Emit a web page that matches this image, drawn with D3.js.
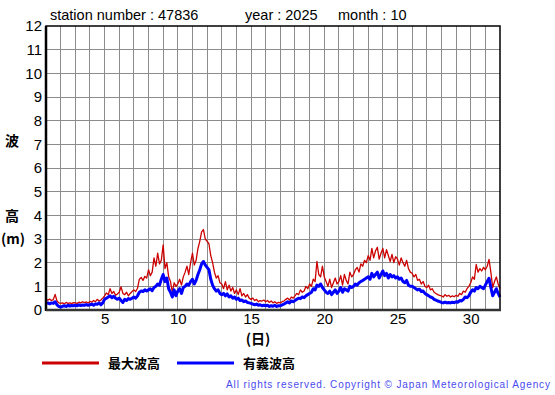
<!DOCTYPE html>
<html>
<head>
<meta charset="utf-8">
<script src="https://cdn.jsdelivr.net/npm/d3@7"></script>
<style>
  body { margin: 0; background: #fff; }
  svg { display: block; font-family: "Liberation Sans", Arial, sans-serif; }
  .jp { font-family: "Noto Sans CJK JP", sans-serif; font-weight: bold; }
</style>
</head>
<body>
<div id="chart"></div>
<script>
// 3-hourly readings, Oct 1 00h .. Nov 1 00h
const maxWave = [
    0.45,0.42,0.46,0.40,0.44,0.66,0.38,0.30,
    0.28,0.30,0.26,0.32,0.28,0.30,0.27,0.31,
    0.30,0.28,0.33,0.30,0.35,0.31,0.34,0.30,
    0.36,0.33,0.40,0.35,0.45,0.38,0.42,0.50,
    0.60,0.72,0.65,0.90,0.70,0.78,0.62,0.68,
    0.75,0.98,0.70,0.65,0.75,0.60,0.70,0.78,
    0.85,0.78,0.92,1.30,1.38,1.25,1.42,1.35,
    1.70,1.45,1.60,2.20,1.85,2.40,1.95,2.10,
    2.75,1.75,2.00,1.40,1.20,0.75,1.15,1.00,
    1.10,1.30,1.05,1.40,1.60,1.85,1.50,2.00,
    2.40,1.90,2.10,2.60,2.90,3.30,3.40,3.00,
    2.90,2.80,2.30,2.00,1.60,1.35,1.45,1.15,
    1.10,0.90,1.20,0.85,1.05,0.80,0.95,0.70,
    0.85,0.65,0.90,0.60,0.70,0.55,0.65,0.50,
    0.45,0.50,0.40,0.45,0.35,0.40,0.38,0.42,
    0.35,0.40,0.32,0.38,0.30,0.35,0.28,0.32,
    0.30,0.35,0.38,0.45,0.50,0.42,0.55,0.50,
    0.60,0.70,0.65,0.85,0.75,0.80,1.00,0.90,
    1.10,1.00,1.30,1.20,2.05,1.50,1.40,1.85,
    1.40,1.20,1.00,1.30,0.95,1.15,1.35,1.10,
    1.20,1.45,1.05,1.50,1.25,1.10,1.60,1.40,
    1.50,1.70,1.80,1.60,1.95,1.85,2.10,2.00,
    2.30,2.10,2.60,2.20,2.50,2.65,2.15,2.40,
    2.60,2.20,2.55,2.30,2.05,2.35,2.00,2.25,
    2.15,1.90,2.20,2.00,1.85,2.10,1.75,1.60,
    1.55,1.40,1.50,1.25,1.30,1.10,1.20,1.00,
    0.95,1.05,0.85,0.90,0.75,0.70,0.65,0.62,
    0.60,0.55,0.65,0.58,0.62,0.55,0.60,0.56,
    0.62,0.58,0.70,0.65,0.80,0.75,0.90,1.00,
    1.15,1.40,1.30,1.93,1.60,1.75,1.65,1.80,
    1.70,1.85,2.14,1.60,0.95,1.20,1.40,1.10,
    0.90
];

const sigWave = [
    0.28,0.30,0.26,0.30,0.28,0.35,0.22,0.15,
    0.12,0.16,0.18,0.15,0.20,0.17,0.19,0.18,
    0.20,0.18,0.22,0.19,0.21,0.20,0.23,0.20,
    0.22,0.25,0.20,0.26,0.24,0.30,0.22,0.30,
    0.45,0.50,0.55,0.60,0.52,0.58,0.50,0.45,
    0.50,0.40,0.32,0.45,0.40,0.48,0.45,0.50,
    0.55,0.50,0.60,0.75,0.80,0.78,0.85,0.80,
    0.85,0.90,0.82,0.95,1.00,1.10,1.05,1.30,
    1.50,1.20,1.35,0.90,0.75,0.55,0.85,0.60,
    0.80,0.90,0.70,0.95,1.00,1.10,1.05,1.20,
    1.30,1.10,1.25,1.50,1.70,1.95,2.05,1.90,
    1.80,1.70,1.30,1.05,0.90,0.80,0.85,0.70,
    0.65,0.70,0.60,0.68,0.55,0.60,0.50,0.55,
    0.45,0.50,0.40,0.42,0.35,0.38,0.32,0.30,
    0.28,0.25,0.22,0.25,0.20,0.22,0.18,0.20,
    0.18,0.20,0.15,0.18,0.16,0.20,0.15,0.18,
    0.18,0.22,0.25,0.30,0.35,0.30,0.38,0.35,
    0.40,0.45,0.50,0.48,0.55,0.52,0.60,0.65,
    0.70,0.75,0.90,0.85,1.05,1.00,1.10,0.95,
    0.85,0.75,0.70,0.80,0.65,0.75,0.85,0.70,
    0.80,0.95,0.75,0.90,0.85,0.80,1.00,0.95,
    1.00,1.10,1.05,1.15,1.20,1.25,1.30,1.35,
    1.40,1.30,1.55,1.40,1.50,1.60,1.35,1.50,
    1.65,1.45,1.55,1.35,1.50,1.40,1.45,1.35,
    1.40,1.30,1.35,1.20,1.15,1.25,1.05,1.00,
    1.00,0.95,0.90,0.85,0.88,0.78,0.80,0.70,
    0.65,0.60,0.55,0.52,0.45,0.42,0.38,0.35,
    0.32,0.30,0.33,0.30,0.32,0.30,0.33,0.31,
    0.35,0.33,0.40,0.38,0.45,0.55,0.52,0.60,
    0.75,0.85,0.80,0.95,0.90,1.00,0.95,0.90,
    1.05,1.20,1.34,0.95,0.60,0.75,0.90,0.70,
    0.55
];

const xTicks = [5, 10, 15, 20, 25, 30];
const yTicks = [0, 1, 2, 3, 4, 5, 6, 7, 8, 9, 10, 11, 12];
const titleParts = ["station number : 47836", "year : 2025", "month : 10"];
const legendLabels = ["最大波高", "有義波高"];
const colors = ["#cc0000", "#0000ff"];

const W = 555, H = 395;
const plot = { left: 46, right: 500, top: 26, bottom: 310 };

const svg = d3.select("#chart").append("svg")
    .attr("width", W)
    .attr("height", H);

const x = d3.scaleLinear().domain([1, 32]).range([plot.left, plot.right]);
const y = d3.scaleLinear().domain([0, 12]).range([plot.bottom, plot.top]);

// grid
svg.append("g")
    .selectAll("line")
    .data(d3.range(2, 32))
    .join("line")
    .attr("x1", d => x(d)).attr("x2", d => x(d))
    .attr("y1", plot.top).attr("y2", plot.bottom)
    .attr("stroke", "#8c8c8c").attr("stroke-width", 1)
    .attr("shape-rendering", "crispEdges");

svg.append("g")
    .selectAll("line")
    .data(yTicks.slice(1, -1))
    .join("line")
    .attr("x1", plot.left).attr("x2", plot.right)
    .attr("y1", d => y(d)).attr("y2", d => y(d))
    .attr("stroke", "#8c8c8c").attr("stroke-width", 1)
    .attr("shape-rendering", "crispEdges");

// series
const line = d3.line()
    .x((d, i) => x(1 + i / 8))
    .y(d => y(d));

svg.append("path")
    .datum(maxWave)
    .attr("d", line)
    .attr("fill", "none")
    .attr("stroke", colors[0])
    .attr("stroke-width", 1.3)
    .attr("stroke-linejoin", "round");

svg.append("path")
    .datum(sigWave)
    .attr("d", line)
    .attr("fill", "none")
    .attr("stroke", colors[1])
    .attr("stroke-width", 3)
    .attr("stroke-linejoin", "round");

// frame
svg.append("rect")
    .attr("x", plot.left).attr("y", plot.top)
    .attr("width", plot.right - plot.left)
    .attr("height", plot.bottom - plot.top)
    .attr("fill", "none").attr("stroke", "#000").attr("stroke-width", 1.5);
svg.append("line")
    .attr("x1", plot.left).attr("x2", plot.left)
    .attr("y1", plot.top).attr("y2", plot.bottom + 1)
    .attr("stroke", "#000").attr("stroke-width", 2.5);
svg.append("line")
    .attr("x1", plot.left).attr("x2", plot.right + 1)
    .attr("y1", plot.bottom).attr("y2", plot.bottom)
    .attr("stroke", "#333").attr("stroke-width", 2.5);

// axes labels
const yAxis = d3.axisLeft(y).tickValues(yTicks).tickSize(0).tickPadding(4);
svg.append("g")
    .attr("transform", `translate(${plot.left},0)`)
    .call(yAxis)
    .call(g => g.select(".domain").remove())
    .selectAll("text")
    .attr("font-size", 15)
    .attr("font-family", "Liberation Sans, Arial, sans-serif")
    .attr("fill", "#000");

const xAxis = d3.axisBottom(x).tickValues(xTicks).tickSize(0).tickPadding(3);
svg.append("g")
    .attr("transform", `translate(0,${plot.bottom})`)
    .call(xAxis)
    .call(g => g.select(".domain").remove())
    .selectAll("text")
    .attr("font-size", 15)
    .attr("font-family", "Liberation Sans, Arial, sans-serif")
    .attr("fill", "#000");

// title
const titleX = [50, 245, 338];
svg.selectAll(".title")
    .data(titleParts)
    .join("text")
    .attr("class", "title")
    .attr("x", (d, i) => titleX[i])
    .attr("y", 20)
    .attr("font-size", 14.5)
    .text(d => d);

// y label
svg.append("text").attr("class", "jp").attr("x", 12).attr("y", 146)
    .attr("text-anchor", "middle").attr("font-size", 14).text("波");
svg.append("text").attr("class", "jp").attr("x", 12).attr("y", 221)
    .attr("text-anchor", "middle").attr("font-size", 14).text("高");
svg.append("text").attr("class", "jp").attr("x", 13).attr("y", 244)
    .attr("text-anchor", "middle").attr("font-size", 14).text("(m)");

svg.append("text").attr("class", "jp").attr("x", 258).attr("y", 344)
    .attr("text-anchor", "middle").attr("font-size", 14).attr("font-weight", "normal").text("(日)");

// legend
const legX = [42, 177];
const legTextX = [108, 243];
legendLabels.forEach((lab, i) => {
    svg.append("line")
        .attr("x1", legX[i]).attr("x2", legX[i] + 57)
        .attr("y1", 363).attr("y2", 363)
        .attr("stroke", colors[i]).attr("stroke-width", 3);
    svg.append("text").attr("class", "jp")
        .attr("x", legTextX[i]).attr("y", 368)
        .attr("font-size", 13).text(lab);
});

svg.append("text")
    .attr("x", 226).attr("y", 388)
    .attr("font-size", 10)
    .attr("fill", "#4a4aee")
    .attr("textLength", 324)
    .attr("lengthAdjust", "spacing")
    .text("All rights reserved. Copyright © Japan Meteorological Agency");
</script>
</body>
</html>
